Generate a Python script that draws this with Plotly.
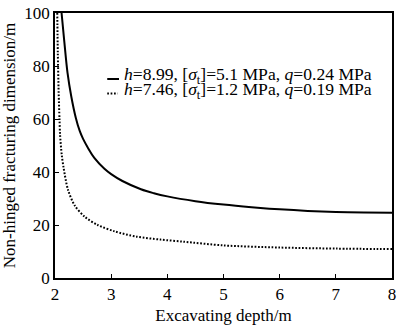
import plotly.graph_objects as go

depth_a = [2.117, 2.164, 2.223, 2.29, 2.37, 2.44, 2.5, 2.59, 2.70, 2.88, 3.0, 3.2, 3.53, 3.76, 4.0, 4.5, 5.0, 5.5, 6.0, 6.5, 7.0, 7.5, 8.0]
dim_a = [100, 89.6, 77.4, 68.5, 60.5, 55.5, 52.5, 49.0, 45.3, 41.2, 39.2, 36.6, 33.5, 32.0, 30.8, 29.0, 27.7, 26.7, 25.9, 25.3, 24.9, 24.7, 24.6]

depth_b = [2.04, 2.05, 2.065, 2.08, 2.09, 2.12, 2.15, 2.23, 2.35, 2.53, 2.76, 3.06, 3.45, 3.88, 4.29, 5.0, 6.0, 7.0, 8.0]
dim_b = [100, 85, 70, 60, 54.2, 46.5, 42, 33.4, 27.4, 23.1, 20, 17.6, 15.6, 14.5, 13.7, 12.3, 11.5, 11.1, 10.9]

label_a = "<i>h</i>=8.99, [<i>σ</i><sub>t</sub>]=5.1 MPa, <i>q</i>=0.24 MPa"
label_b = "<i>h</i>=7.46, [<i>σ</i><sub>t</sub>]=1.2 MPa, <i>q</i>=0.19 MPa"

x_ticks = [2, 3, 4, 5, 6, 7, 8]
y_ticks = [0, 20, 40, 60, 80, 100]

FONT = "Liberation Serif"
FS = 17

fig = go.Figure()
fig.add_trace(go.Scatter(x=depth_a, y=dim_a, mode="lines", name=label_a,
                         line=dict(color="black", width=2, shape="spline", smoothing=1.0)))
fig.add_trace(go.Scatter(x=depth_b, y=dim_b, mode="lines", name=label_b,
                         line=dict(color="black", width=2, dash="1.7px,1.7px", shape="spline", smoothing=0.8)))

# legend samples (paper coords)
fig.add_shape(type="line", xref="paper", yref="paper", x0=0.155, x1=0.190, y0=0.751, y1=0.751,
              line=dict(color="black", width=2))
fig.add_shape(type="line", xref="paper", yref="paper", x0=0.155, x1=0.186, y0=0.696, y1=0.696,
              line=dict(color="black", width=2, dash="1.7px,1.7px"))

fig.add_annotation(xref="paper", yref="paper", x=0.200, y=0.763, xanchor="left", yanchor="middle",
                   text=label_a, showarrow=False, font=dict(family=FONT, size=17.6, color="black"))
fig.add_annotation(xref="paper", yref="paper", x=0.200, y=0.708, xanchor="left", yanchor="middle",
                   text=label_b, showarrow=False, font=dict(family=FONT, size=17.6, color="black"))

axis_common = dict(showgrid=False, zeroline=False, showline=True, linecolor="black", linewidth=1.5,
                   mirror=True, ticks="inside", ticklen=4, tickwidth=1, tickcolor="black",
                   ticklabeloverflow="allow",
                   tickfont=dict(family=FONT, size=FS, color="black"))

fig.update_xaxes(range=[2, 8], tickvals=x_ticks,
                 title=dict(text="Excavating depth/m", font=dict(family=FONT, size=FS, color="black"), standoff=6),
                 **axis_common)
fig.update_yaxes(range=[0, 100], tickvals=y_ticks,
                 title=dict(text="Non-hinged fracturing dimension/m", font=dict(family=FONT, size=FS, color="black"), standoff=4),
                 **axis_common)

fig.update_layout(width=400, height=326, margin=dict(l=55, r=4, t=5, b=48),
                  paper_bgcolor="white", plot_bgcolor="white", showlegend=False,
                  font=dict(family=FONT, size=FS, color="black"))

fig.write_html("out.html")
